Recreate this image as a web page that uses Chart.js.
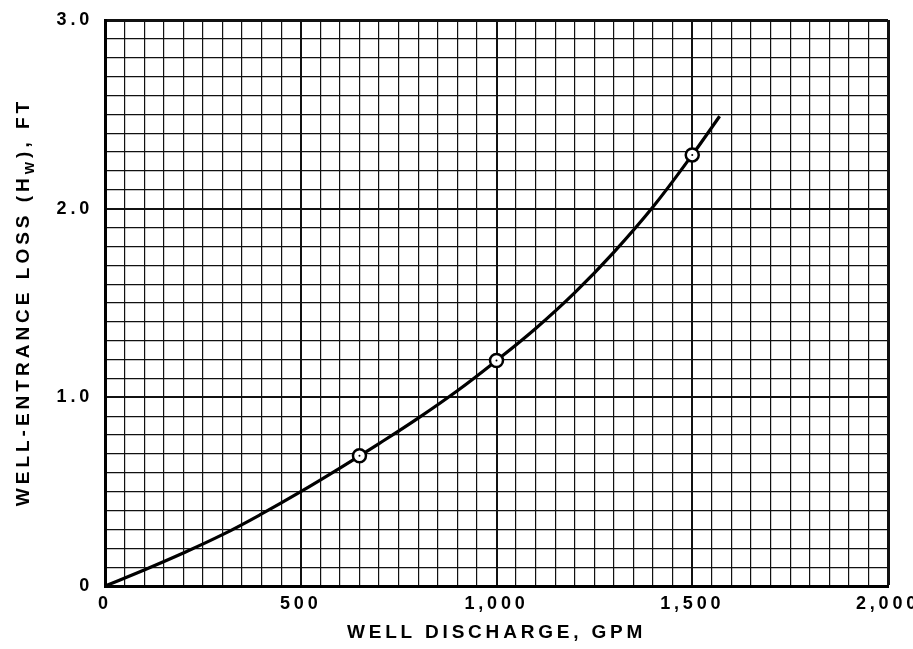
<!DOCTYPE html>
<html>
<head>
<meta charset="utf-8">
<script src="https://cdn.jsdelivr.net/npm/chart.js@4/dist/chart.umd.min.js"></script>
<style>
  html, body { margin: 0; padding: 0; background: #ffffff; }
  #wrap { width: 913px; height: 649px; position: relative; }
</style>
</head>
<body>
<div id="wrap"><canvas id="c"></canvas></div>
<script>
// ---- data ----
const dischargeGpm   = [0, 100, 200, 300, 400, 500, 600, 700, 800, 900, 1000, 1100, 1200, 1300, 1400, 1500, 1570];
const entranceLossFt = [0, 0.085, 0.175, 0.272, 0.382, 0.50, 0.625, 0.755, 0.89, 1.035, 1.195, 1.365, 1.555, 1.77, 2.01, 2.285, 2.49];

const testDischargeGpm = [650, 1000, 1500];
const testLossFt       = [0.69, 1.195, 2.285];

const xMajorValues = [0, 500, 1000, 1500, 2000];
const xTickLabels  = ['0', '500', '1,000', '1,500', '2,000'];
const yMajorValues = [0, 1, 2, 3];
const yTickLabels  = ['0', '1.0', '2.0', '3.0'];

const xMinorStep = 50;
const yMinorStep = 0.1;

const xTitle = 'WELL DISCHARGE, GPM';
const yTitleParts = ['WELL-ENTRANCE LOSS (H', 'W', '), FT'];

// ---- helpers ----
const FONT = '"Liberation Sans", Arial, sans-serif';
function near(a, b) { return Math.abs(a - b) < 1e-6; }
function labelFor(v, majors, labels) {
  for (let i = 0; i < majors.length; i++) if (near(v, majors[i])) return labels[i];
  return '';
}
function buildTicks(min, max, step) {
  const out = [];
  const n = Math.round((max - min) / step);
  for (let i = 0; i <= n; i++) out.push({ value: +(min + i * step).toFixed(6) });
  return out;
}

const spacingPlugin = {
  id: 'spacing',
  beforeDraw(chart) { chart.ctx.letterSpacing = '3.8px'; },
  afterDraw(chart) { chart.ctx.letterSpacing = '0px'; }
};

const yTitlePlugin = {
  id: 'yTitle',
  afterDraw(chart) {
    const ctx = chart.ctx;
    ctx.save();
    ctx.letterSpacing = '4px';
    ctx.fillStyle = '#000';
    ctx.textBaseline = 'middle';
    ctx.textAlign = 'left';
    const big = 'bold 19px ' + FONT;
    const small = 'bold 13px ' + FONT;
    ctx.font = big;
    const w0 = ctx.measureText(yTitleParts[0]).width;
    const w2 = ctx.measureText(yTitleParts[2]).width;
    ctx.font = small;
    const w1 = ctx.measureText(yTitleParts[1]).width;
    const total = w0 + w1 + w2;
    ctx.translate(24, 302);
    ctx.rotate(-Math.PI / 2);
    let x = -total / 2;
    ctx.font = big;
    ctx.fillText(yTitleParts[0], x, 0);
    x += w0;
    ctx.font = small;
    ctx.fillText(yTitleParts[1], x, 6);
    x += w1;
    ctx.font = big;
    ctx.fillText(yTitleParts[2], x, 0);
    ctx.restore();
  }
};

const gridWidth = (majors, edges) => (ctx) => {
  const v = ctx.tick ? ctx.tick.value : null;
  if (v === null) return 1;
  if (edges.some(e => near(v, e))) return 3;
  if (majors.some(m => near(v, m))) return 2;
  return 1.2;
};

new Chart(document.getElementById('c'), {
  type: 'scatter',
  data: {
    datasets: [
      {
        label: 'Test points',
        data: testDischargeGpm.map((q, i) => ({ x: q, y: testLossFt[i] })),
        showLine: false,
        pointRadius: 6.5,
        pointBorderWidth: 2.5,
        pointBorderColor: '#000',
        pointBackgroundColor: '#fff',
        order: 1
      },
      {
        label: 'Test point centres',
        data: testDischargeGpm.map((q, i) => ({ x: q, y: testLossFt[i] })),
        showLine: false,
        pointRadius: 1,
        pointBorderWidth: 0,
        pointBackgroundColor: '#000',
        order: 0
      },
      {
        label: 'Well-entrance loss',
        data: dischargeGpm.map((q, i) => ({ x: q, y: entranceLossFt[i] })),
        showLine: true,
        tension: 0.4,
        borderColor: '#000',
        borderWidth: 3.2,
        pointRadius: 0,
        fill: false,
        order: 2
      }
    ]
  },
  options: {
    responsive: true,
    maintainAspectRatio: false,
    animation: false,
    layout: { padding: { left: 0, top: 20, right: 25, bottom: 0 } },
    plugins: { legend: { display: false }, tooltip: { enabled: false } },
    scales: {
      x: {
        type: 'linear',
        min: 0, max: 2000,
        afterBuildTicks: (s) => { s.ticks = buildTicks(0, 2000, xMinorStep); },
        afterFit: (s) => { s.height = 63; s.paddingLeft = 0; s.paddingRight = 0; },
        ticks: {
          autoSkip: false, maxRotation: 0, minRotation: 0,
          color: '#000', padding: 7,
          font: { family: FONT, size: 18, weight: 'bold' },
          callback: (v) => labelFor(v, xMajorValues, xTickLabels)
        },
        grid: {
          color: '#111',
          lineWidth: gridWidth(xMajorValues, [2000]),
          drawTicks: false
        },
        border: { display: true, color: '#000', width: 3 },
        title: {
          display: true, text: xTitle, color: '#000',
          font: { family: FONT, size: 19, weight: 'bold' },
          padding: { top: 0, bottom: 5 }
        }
      },
      y: {
        type: 'linear',
        min: 0, max: 3,
        afterBuildTicks: (s) => { s.ticks = buildTicks(0, 3, yMinorStep); },
        afterFit: (s) => { s.width = 105; s.paddingTop = 0; s.paddingBottom = 0; },
        ticks: {
          autoSkip: false,
          color: '#000', padding: 12,
          font: { family: FONT, size: 18, weight: 'bold' },
          callback: (v) => labelFor(v, yMajorValues, yTickLabels)
        },
        grid: {
          color: '#111',
          lineWidth: gridWidth(yMajorValues, [3]),
          drawTicks: false
        },
        border: { display: true, color: '#000', width: 3 }
      }
    }
  },
  plugins: [spacingPlugin, yTitlePlugin]
});
</script>
</body>
</html>
